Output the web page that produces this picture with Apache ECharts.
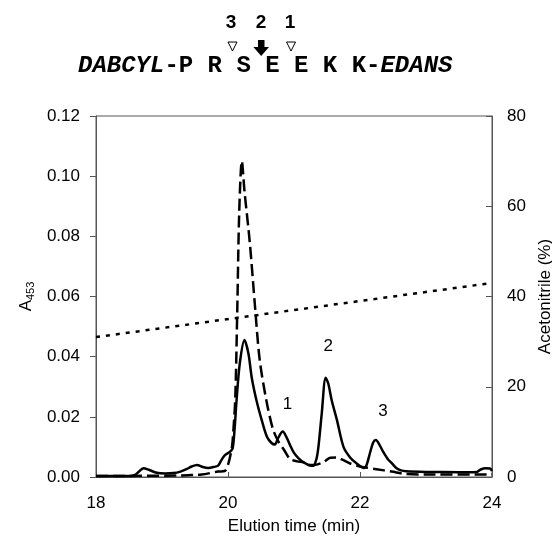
<!DOCTYPE html>
<html>
<head>
<meta charset="utf-8">
<script src="https://cdn.jsdelivr.net/npm/echarts@6/dist/echarts.min.js"></script>
<style>html,body{margin:0;padding:0;background:#fff;overflow:hidden;}#c{position:absolute;left:0;top:0;width:552px;height:542px;}</style>
</head>
<body>
<div id="c"></div>
<script>
// ---- data ----
var xTicks = [18, 20, 22, 24];
var leftTicks = [0, 0.02, 0.04, 0.06, 0.08, 0.10, 0.12];
var rightTicks = [0, 20, 40, 60, 80];

var solidTime = [18.0, 18.5, 18.6, 18.66, 18.72, 18.8, 18.92, 19.05, 19.17, 19.28, 19.37, 19.45, 19.53, 19.62, 19.7, 19.78, 19.85, 19.9, 19.95, 20.03, 20.07, 20.1, 20.13, 20.18, 20.25, 20.31, 20.36, 20.43, 20.51, 20.59, 20.66, 20.71, 20.76, 20.83, 20.88, 20.94, 21.0, 21.07, 21.15, 21.22, 21.29, 21.34, 21.37, 21.42, 21.48, 21.52, 21.57, 21.65, 21.75, 21.85, 21.95, 22.06, 22.1, 22.15, 22.2, 22.24, 22.3, 22.35, 22.42, 22.48, 22.55, 22.62, 22.7, 23.0, 23.5, 23.77, 23.83, 23.9, 23.97, 24.0];
var solidA453 = [0.0003, 0.0003, 0.0008, 0.002, 0.0029, 0.0024, 0.0014, 0.0012, 0.0013, 0.0018, 0.0026, 0.0035, 0.004, 0.0033, 0.003, 0.0033, 0.0038, 0.0056, 0.0072, 0.0084, 0.0095, 0.016, 0.0256, 0.038, 0.0455, 0.041, 0.033, 0.0256, 0.019, 0.0134, 0.0113, 0.0108, 0.013, 0.0151, 0.0135, 0.0106, 0.008, 0.0062, 0.0048, 0.004, 0.0037, 0.006, 0.010, 0.021, 0.033, 0.031, 0.0256, 0.019, 0.010, 0.0065, 0.0045, 0.003, 0.004, 0.0079, 0.0115, 0.0123, 0.0105, 0.0084, 0.006, 0.0046, 0.003, 0.0022, 0.0019, 0.0017, 0.0016, 0.0017, 0.0025, 0.0029, 0.0028, 0.002];

var dashedTime = [18.0, 19.3, 19.5, 19.6, 19.85, 19.95, 20.0, 20.06, 20.08, 20.11, 20.14, 20.17, 20.21, 20.25, 20.33, 20.41, 20.48, 20.58, 20.68, 20.77, 20.85, 20.94, 21.05, 21.15, 21.22, 21.3, 21.45, 21.55, 21.65, 21.74, 21.85, 22.0, 22.25, 22.48, 22.7, 23.0, 24.0];
var dashedA453 = [0.0003, 0.0005, 0.0007, 0.0008, 0.0018, 0.002, 0.004, 0.010, 0.015, 0.026, 0.055, 0.088, 0.105, 0.095, 0.078, 0.0565, 0.039, 0.0256, 0.016, 0.0115, 0.009, 0.006, 0.0052, 0.0048, 0.004, 0.004, 0.005, 0.0064, 0.0065, 0.0057, 0.0045, 0.0035, 0.0026, 0.0018, 0.001, 0.0008, 0.0008];

var gradientTime = [18, 24];
var gradientPct = [31, 43];

var peakLabels = ['1', '2', '3'];
var peakLabelTime = [20.9, 21.52, 22.35];
var peakLabelA453 = [0.024, 0.0435, 0.0217];

var siteNumbers = ['3', '2', '1'];
var sequenceText = '{i|DABCYL}-P R S E E K K-{i|EDANS}';

function pairs(xs, ys) { return xs.map(function (x, i) { return [x, ys[i]]; }); }

var FONT = '"Liberation Sans", Arial, sans-serif';
var chart = echarts.init(document.getElementById('c'), null, { renderer: 'canvas', width: 552, height: 542 });

var option = {
  animation: false,
  backgroundColor: '#fff',
  grid: { left: 96, right: 60, top: 116, bottom: 65, containLabel: false, outerBoundsMode: 'none', show: true, borderColor: '#555', borderWidth: 1, backgroundColor: 'transparent' },
  xAxis: {
    type: 'value', min: xTicks[0], max: xTicks[xTicks.length - 1], interval: 2,
    name: 'Elution time (min)', nameLocation: 'middle', nameGap: 41,
    nameTextStyle: { fontFamily: FONT, fontSize: 17, color: '#000' },
    axisLine: { lineStyle: { color: '#555', width: 1 } },
    axisTick: { inside: true, length: 5, lineStyle: { color: '#555' } },
    axisLabel: { fontFamily: FONT, fontSize: 17, color: '#000', margin: 18 },
    splitLine: { show: false }
  },
  yAxis: [{
    type: 'value', min: leftTicks[0], max: leftTicks[leftTicks.length - 1], interval: 0.02,
    name: '{a|A}{s|453}', nameLocation: 'middle', nameGap: 60, nameRotate: 90,
    nameTextStyle: { rich: { a: { fontFamily: FONT, fontSize: 17, color: '#000' }, s: { fontFamily: FONT, fontSize: 11, color: '#000', verticalAlign: 'bottom', padding: [8, 0, 0, 0] } } },
    axisLine: { show: true, lineStyle: { color: '#555', width: 1 } },
    axisTick: { show: true, inside: false, length: 6, lineStyle: { color: '#555' } },
    axisLabel: { fontFamily: FONT, fontSize: 17, color: '#000', margin: 16, formatter: function (v) { return v.toFixed(2); } },
    splitLine: { show: false }
  }, {
    type: 'value', position: 'right', min: rightTicks[0], max: rightTicks[rightTicks.length - 1], interval: 20,
    name: 'Acetonitrile (%)', nameLocation: 'middle', nameGap: 44, nameRotate: 90,
    nameTextStyle: { fontFamily: FONT, fontSize: 17, color: '#000' },
    axisLine: { show: true, lineStyle: { color: '#555', width: 1 } },
    axisTick: { show: true, inside: true, length: 6, lineStyle: { color: '#555' } },
    axisLabel: { fontFamily: FONT, fontSize: 17, color: '#000', margin: 15 },
    splitLine: { show: false }
  }],
  series: [{
    name: 'gradient', type: 'line', yAxisIndex: 1, data: pairs(gradientTime, gradientPct),
    showSymbol: false, lineStyle: { color: '#000', width: 2.5, type: [4, 6] }, z: 1
  }, {
    name: 'dashed', type: 'line', yAxisIndex: 0, data: pairs(dashedTime, dashedA453),
    showSymbol: false, smooth: 0.3, lineStyle: { color: '#000', width: 2.5, type: [12, 5] }, z: 2
  }, {
    name: 'solid', type: 'line', yAxisIndex: 0, data: pairs(solidTime, solidA453),
    showSymbol: false, smooth: 0.3, lineStyle: { color: '#000', width: 2.5 }, z: 3,
    markPoint: {
      symbol: 'circle', symbolSize: 0,
      label: { show: true, fontFamily: FONT, fontSize: 17, color: '#000', position: 'inside' },
      data: peakLabels.map(function (t, i) { return { coord: [peakLabelTime[i], peakLabelA453[i]], value: t, label: { formatter: t } }; })
    }
  }],
  graphic: [
    { type: 'text', style: { text: siteNumbers[0], x: 231, y: 23, textAlign: 'center', textVerticalAlign: 'middle', font: 'bold 19px ' + FONT, fill: '#000' } },
    { type: 'text', style: { text: siteNumbers[1], x: 261, y: 23, textAlign: 'center', textVerticalAlign: 'middle', font: 'bold 19px ' + FONT, fill: '#000' } },
    { type: 'text', style: { text: siteNumbers[2], x: 290, y: 23, textAlign: 'center', textVerticalAlign: 'middle', font: 'bold 19px ' + FONT, fill: '#000' } },
    { type: 'polygon', shape: { points: [[228, 42], [237, 42], [232.5, 51]] }, style: { fill: '#fff', stroke: '#000', lineWidth: 1 } },
    { type: 'polygon', shape: { points: [[286.5, 42], [295.5, 42], [291, 51]] }, style: { fill: '#fff', stroke: '#000', lineWidth: 1 } },
    { type: 'polygon', shape: { points: [[258, 40], [264.5, 40], [264.5, 47], [269, 47], [261.2, 56], [253.4, 47], [258, 47]] }, style: { fill: '#000' } },
    { type: 'text', style: { text: sequenceText, x: 78, y: 66, textAlign: 'left', textVerticalAlign: 'middle',
      fontFamily: '"Liberation Mono", "Courier New", monospace', fontSize: 24, fontWeight: 'bold', fill: '#000',
      rich: { i: { fontFamily: '"Liberation Mono", "Courier New", monospace', fontSize: 24, fontWeight: 'bold', fontStyle: 'italic', fill: '#000' } } } }
  ]
};
chart.setOption(option);
</script>
</body>
</html>
